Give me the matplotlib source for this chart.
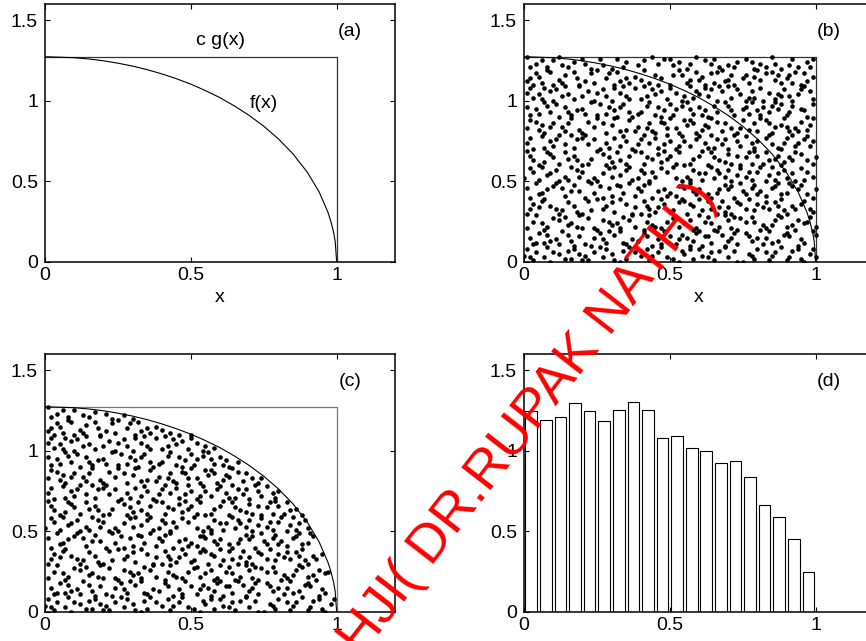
import numpy as np
import matplotlib.pyplot as plt

plt.rcParams['font.family'] = 'Liberation Sans'
plt.rcParams['font.size'] = 14

curve_x = [0, 0.1, 0.15, 0.2, 0.25, 0.3, 0.35, 0.4, 0.45, 0.5, 0.55, 0.6, 0.65,
           0.7, 0.75, 0.8, 0.85, 0.9, 0.94, 0.97, 0.98, 0.99, 0.995, 1.0]
curve_f = [1.273, 1.267, 1.259, 1.248, 1.233, 1.215, 1.193, 1.167, 1.137, 1.103,
           1.063, 1.019, 0.967, 0.909, 0.842, 0.764, 0.671, 0.555, 0.434, 0.309,
           0.253, 0.180, 0.127, 0.0]
c_g = 1.273  # envelope c*g(x) on [0, 1]

# candidate points (x, y) in hundredths
dots = [
    (0,4),(1,8),(3,1),(4,6),(7,3),(8,9),(9,0),(12,5),(15,7),(16,2),(17,8),(21,4),(22,1),
    (24,6),(26,9),(27,3),(30,5),(33,0),(34,7),(35,2),(38,6),(42,8),(43,1),(44,4),(47,9),
    (49,3),(53,0),(54,7),(55,5),(58,2),(60,8),(61,4),(64,6),(65,1),(69,9),(70,3),(72,7),
    (73,0),(77,5),(79,2),(80,8),(83,6),(84,1),(85,4),(88,9),(91,3),(92,7),(95,2),(96,0),
    (98,5),(99,8),
    (2,3),(10,6),(14,2),(19,5),(28,8),(31,1),(40,4),(46,6),(51,2),(57,8),(63,3),(67,7),
    (75,0),(78,4),(86,6),(90,1),(94,8),(100,3),(20,1),(36,9),
    (37,14),(82,11),(5,18),(64,12),(91,16),(23,10),(48,19),(70,13),(15,17),(56,15),(3,11),
    (99,19),(42,16),(28,12),(76,18),(61,10),(11,14),(87,13),(33,19),(52,11),(19,16),(95,14),
    (68,17),(7,12),(44,10),(80,15),(26,18),(58,13),(73,11),(13,19),(89,17),(39,13),(50,16),
    (2,15),(66,19),(85,12),(21,11),(77,16),(46,14),(31,17),(94,10),(59,18),(9,13),(71,15),
    (17,10),(54,17),(35,11),(84,19),(62,16),(27,14),
    (4,12),(8,17),(16,13),(24,15),(29,19),(34,12),(41,18),(47,11),(53,14),(60,19),(63,16),
    (69,10),(72,18),(78,13),(83,15),(90,18),(96,12),(100,17),(57,10),(12,11),
    (12,26),(47,21),(88,28),(30,23),(65,20),(4,29),(79,25),(53,22),(22,27),(96,24),(41,20),
    (69,29),(8,22),(57,26),(34,28),(83,21),(16,24),(74,27),(25,20),(92,23),(49,25),(1,21),
    (63,28),(38,22),(86,26),(19,29),(71,21),(55,24),(10,27),(44,23),(98,28),(29,25),(67,22),
    (81,20),(36,26),(6,24),(60,29),(90,22),(51,27),(24,21),(76,25),(15,23),(43,29),(94,26),
    (58,20),(32,24),(72,28),(85,23),(20,21),(62,25),
    (3,25),(7,20),(14,28),(18,22),(27,26),(33,21),(37,29),(42,25),(45,22),(52,28),(59,21),
    (64,24),(70,26),(73,20),(78,28),(82,23),(87,29),(93,20),(97,25),(100,22),
    (70,34),(18,31),(55,38),(93,33),(3,36),(40,30),(77,39),(28,35),(61,32),(86,37),(11,33),
    (47,39),(99,31),(35,36),(66,30),(22,38),(82,34),(51,32),(7,39),(74,36),(43,33),(90,30),
    (15,37),(58,35),(31,31),(96,38),(64,33),(1,30),(48,36),(79,32),(25,39),(87,35),(13,32),
    (53,37),(69,31),(38,34),(95,36),(20,30),(60,39),(84,33),(9,35),(45,31),(73,37),(33,39),
    (89,32),(56,30),(5,34),(68,38),(27,33),(80,36),(42,35),
    (2,33),(6,38),(12,30),(17,35),(23,32),(30,37),(37,30),(41,38),(46,34),(50,31),(57,36),
    (63,38),(67,34),(71,30),(76,33),(83,37),(88,39),(92,35),(98,33),(54,39),
    (26,47),(63,42),(8,45),(91,49),(44,40),(75,44),(17,48),(52,41),(85,46),(34,43),(2,40),
    (69,48),(97,42),(39,46),(57,49),(14,41),(81,44),(23,49),(48,45),(72,40),(6,43),(92,47),
    (60,45),(30,41),(87,49),(41,48),(76,42),(19,44),(55,46),(99,40),(36,49),(66,43),(10,47),
    (83,41),(46,44),(29,46),(71,47),(94,45),(4,49),(59,42),(21,40),(79,48),(50,43),(13,46),
    (88,42),(38,41),(67,45),(32,48),(78,46),(54,47),
    (1,46),(5,42),(11,49),(16,44),(24,43),(27,40),(33,47),(40,44),(43,49),(49,41),(53,47),
    (58,44),(64,40),(70,45),(74,49),(80,42),(86,47),(90,43),(95,48),(100,45),
    (45,53),(89,57),(12,50),(67,55),(31,59),(78,51),(3,56),(56,53),(95,58),(24,52),(71,50),
    (40,57),(84,54),(16,59),(61,51),(8,54),(49,56),(93,50),(27,55),(74,58),(37,51),(81,59),
    (0,52),(58,57),(19,53),(87,55),(43,50),(69,53),(97,56),(33,54),(64,59),(11,57),(52,52),
    (77,56),(22,50),(90,52),(47,58),(6,59),(83,50),(35,57),(62,55),(15,51),(73,54),(99,53),
    (29,58),(54,50),(86,51),(41,55),(66,57),(20,56),
    (2,58),(5,51),(9,55),(14,53),(18,57),(25,50),(30,53),(36,59),(39,52),(44,56),(51,59),
    (57,51),(60,55),(65,52),(70,57),(76,53),(80,56),(85,59),(92,55),(96,51),
    (58,64),(14,68),(82,61),(36,66),(97,63),(5,60),(70,67),(47,62),(25,69),(91,65),(63,60),
    (18,63),(79,69),(41,61),(2,66),(86,64),(53,68),(30,62),(74,60),(10,65),(95,67),(67,63),
    (38,69),(22,61),(88,60),(50,66),(7,62),(76,65),(44,64),(99,61),(61,69),(27,67),(84,63),
    (15,64),(55,60),(93,68),(33,63),(71,61),(1,69),(46,67),(80,66),(20,60),(65,65),(40,68),
    (89,62),(9,67),(57,61),(29,65),(77,68),(49,64),
    (3,63),(8,68),(12,61),(17,66),(23,64),(28,60),(32,68),(35,61),(42,65),(48,69),(52,61),
    (60,66),(64,68),(69,62),(73,66),(78,61),(83,68),(87,66),(92,63),(100,65),
    (33,72),(76,78),(9,75),(52,70),(94,74),(21,79),(65,71),(40,76),(85,73),(3,70),(60,78),
    (28,74),(90,77),(46,71),(14,73),(72,79),(55,75),(98,72),(37,70),(80,75),(6,78),(68,73),
    (24,76),(88,70),(49,79),(17,71),(62,74),(96,76),(31,77),(74,72),(43,74),(12,79),(83,77),
    (57,72),(1,74),(92,79),(35,75),(70,70),(20,77),(66,76),(48,73),(87,71),(26,70),(78,74),
    (54,78),(10,72),(99,75),(41,79),(63,71),(18,76),
    (2,77),(7,71),(11,76),(16,79),(22,73),(29,71),(34,78),(39,73),(45,77),(50,75),(53,72),
    (59,76),(64,79),(69,76),(73,75),(79,71),(84,79),(89,74),(93,72),(97,78),
    (71,83),(4,87),(44,81),(88,85),(25,89),(59,80),(13,84),(97,82),(36,88),(79,86),(52,83),
    (7,80),(64,89),(30,85),(91,81),(47,87),(19,82),(83,88),(56,85),(1,83),(73,80),(39,84),
    (95,87),(16,89),(61,82),(28,80),(86,84),(50,89),(10,86),(68,81),(42,83),(99,89),(22,87),
    (77,82),(55,88),(33,81),(90,84),(6,85),(66,87),(45,80),(81,89),(14,81),(58,86),(93,83),
    (35,82),(75,88),(24,84),(62,85),(85,80),(48,86),
    (2,88),(5,82),(9,84),(15,86),(20,80),(27,86),(31,89),(38,81),(43,86),(49,83),(53,80),
    (57,88),(63,84),(69,86),(74,83),(80,81),(84,86),(89,89),(94,81),(98,85),
    (18,94),(63,90),(92,97),(39,92),(7,99),(75,95),(51,91),(26,98),(84,93),(2,91),(46,96),
    (97,90),(31,94),(69,99),(14,96),(58,92),(88,98),(37,90),(80,94),(21,92),(54,97),(9,93),
    (72,91),(43,99),(95,95),(29,96),(66,93),(12,90),(86,99),(48,94),(77,92),(34,98),(60,96),
    (4,95),(91,93),(25,91),(56,99),(82,96),(40,93),(70,97),(16,91),(99,98),(52,95),(32,90),
    (78,99),(62,94),(8,97),(45,91),(87,95),(23,99),
    (1,96),(5,92),(11,98),(15,93),(20,95),(28,92),(33,96),(36,93),(42,97),(47,90),(50,98),
    (57,95),(61,91),(65,97),(71,94),(76,96),(81,91),(85,97),(90,91),(96,94),
    (55,103),(11,107),(86,101),(33,105),(70,109),(3,102),(47,106),(94,104),(24,100),(62,108),
    (15,104),(79,102),(41,109),(98,106),(28,103),(66,100),(7,108),(52,105),(89,107),(36,101),
    (74,104),(19,109),(58,102),(92,100),(44,107),(1,105),(81,108),(30,100),(68,106),(13,103),
    (96,109),(49,101),(84,105),(22,106),(60,104),(38,108),(76,100),(5,104),(91,103),(57,109),
    (27,107),(71,102),(42,103),(99,101),(17,101),(64,107),(34,109),(87,104),(10,100),(78,106),
    (2,108),(6,101),(9,106),(14,109),(20,103),(25,105),(31,108),(35,103),(40,101),(45,104),
    (50,108),(54,100),(59,106),(63,103),(67,109),(73,107),(77,102),(82,100),(88,103),(95,107),
    (40,113),(83,117),(6,111),(61,115),(25,119),(97,112),(50,110),(14,116),(75,114),(32,118),
    (88,111),(2,114),(68,119),(45,116),(21,112),(93,118),(57,113),(10,110),(79,115),(36,111),
    (64,117),(99,115),(28,114),(72,110),(17,118),(53,119),(86,113),(43,111),(4,117),(91,116),
    (31,110),(69,112),(12,113),(59,118),(80,119),(38,115),(95,110),(23,117),(65,111),(47,114),
    (8,119),(76,116),(33,112),(85,118),(54,116),(19,110),(70,113),(1,112),(90,114),(62,110),
    (3,110),(5,115),(9,118),(13,111),(18,114),(24,111),(29,117),(35,114),(41,119),(46,110),
    (51,116),(56,111),(60,113),(66,118),(71,116),(77,111),(81,113),(87,116),(92,111),(96,117),
    (73,124),(15,121),(48,126),(91,122),(30,120),(62,125),(4,123),(85,127),(39,122),(56,120),
    (20,126),(97,124),(67,121),(10,125),(81,123),(44,127),(27,122),(88,120),(53,124),(1,127),
    (76,126),(35,124),(94,121),(59,127),(23,120),(70,122),(8,121),(46,123),(99,126),(17,124),
    (64,123),(32,126),(83,121),(51,122),(12,127),(79,120),
    (2,121),(6,125),(13,122),(21,123),(26,126),(34,121),(41,125),(50,126),(57,123),(65,126),
    (72,121),(78,124),(86,123),(92,126),(98,121),
]

# histogram of accepted x values (density scale)
bin_centers = [0.025, 0.075, 0.125, 0.175, 0.225, 0.275, 0.325, 0.375, 0.425, 0.475,
               0.525, 0.575, 0.625, 0.675, 0.725, 0.775, 0.825, 0.875, 0.925, 0.975]
bar_heights = [1.245, 1.193, 1.211, 1.296, 1.247, 1.186, 1.255, 1.303, 1.251, 1.076,
               1.093, 1.018, 0.999, 0.922, 0.935, 0.839, 0.661, 0.588, 0.451, 0.245]

pts = np.array(dots) / 100.0
dot_x, dot_y = pts[:, 0], pts[:, 1]
accept = dot_y <= np.interp(dot_x, curve_x, curve_f)

fig = plt.figure(figsize=(8.66, 6.41), dpi=100)
w, h = 350 / 866, 258 / 641
ax_a = fig.add_axes([45 / 866, 379 / 641, w, h])
ax_b = fig.add_axes([524 / 866, 379 / 641, w, h])
ax_c = fig.add_axes([45 / 866, 29 / 641, w, h])
ax_d = fig.add_axes([524 / 866, 29 / 641, w, h])


def style(ax, tag):
    ax.set_xlim(0, 1.2)
    ax.set_ylim(0, 1.6)
    ax.set_xticks([0, 0.5, 1])
    ax.set_xticklabels(['0', '0.5', '1'])
    ax.set_yticks([0, 0.5, 1, 1.5])
    ax.set_yticklabels(['0', '0.5', '1', '1.5'])
    ax.tick_params(direction='in', length=3.6, width=0.8, top=True, right=True,
                   labelsize=14)
    ax.tick_params(axis='x', pad=3.5)
    ax.tick_params(axis='y', pad=5)
    for sp in ax.spines.values():
        sp.set_linewidth(1.1)
    ax.text(1.045, 1.43, tag, ha='center', va='center', fontsize=14)


# (a) envelope and target density
ax_a.plot([0, 1, 1], [c_g, c_g, 0], color='#333333', lw=0.9)
ax_a.plot(curve_x, curve_f, color='black', lw=0.8)
ax_a.text(0.6, 1.375, 'c g(x)', ha='center', va='center', fontsize=14)
ax_a.text(0.75, 0.985, 'f(x)', ha='center', va='center', fontsize=14)
ax_a.set_xlabel('x', fontsize=14, labelpad=4)
style(ax_a, '(a)')

# (b) all candidate points
ax_b.plot([0, 1, 1], [c_g, c_g, 0], color='#333333', lw=0.9)
ax_b.plot(curve_x, curve_f, color='black', lw=0.8)
ax_b.plot(dot_x, dot_y, 'o', color='black', ms=3.3, mew=0)
ax_b.set_xlabel('x', fontsize=14, labelpad=4)
style(ax_b, '(b)')

# (c) accepted points
ax_c.plot([0, 1, 1], [c_g, c_g, 0], color='#777777', lw=0.9)
ax_c.plot(curve_x, curve_f, color='black', lw=0.8)
ax_c.plot(dot_x[accept], dot_y[accept], 'o', color='black', ms=3.3, mew=0)
style(ax_c, '(c)')

# (d) density histogram of accepted x
ax_d.bar(bin_centers, bar_heights, width=0.04, color='white', edgecolor='black',
         linewidth=0.8)
style(ax_d, '(d)')

fig.text(529 / 866, 1 - 419 / 641, 'HJI( DR.RUPAK NATH )', rotation=52.2,
         rotation_mode='anchor', ha='center', va='center', color='red',
         fontsize=39, zorder=10)

fig.savefig('out.png', dpi=100)
